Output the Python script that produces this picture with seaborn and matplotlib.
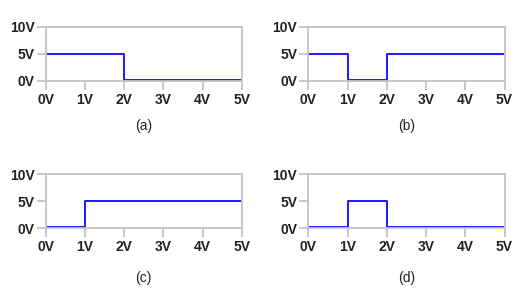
import matplotlib
matplotlib.use("Agg")
import matplotlib.pyplot as plt
import seaborn as sns
import pandas as pd

sns.set_theme(style="white")
plt.rcParams['font.family'] = ['Liberation Sans', 'DejaVu Sans']

# Data: time (V axis) and voltage for each panel
t_a = [0, 2, 2, 5]
v_a = [5, 5, 0.2, 0.2]
t_b = [0, 1, 1, 2, 2, 5]
v_b = [5, 5, 0.2, 0.2, 5, 5]
t_c = [0, 1, 1, 5]
v_c = [0.2, 0.2, 5, 5]
t_d = [0, 1, 1, 2, 2, 5]
v_d = [0.2, 0.2, 5, 5, 0.2, 0.2]
panel_labels = ["(a)", "(b)", "(c)", "(d)"]
x_ticks = [0, 1, 2, 3, 4, 5]
x_tick_labels = ["0V", "1V", "2V", "3V", "4V", "5V"]
y_ticks = [0, 5, 10]
y_tick_labels = ["0V", "5V", "10V"]

W, H = 523, 302
fig = plt.figure(figsize=(W / 100, H / 100), dpi=100)

# axes boxes in pixels: left, right, top, bottom
boxes = [(45.7, 241.7, 27, 81), (308.3, 504.5, 27, 81),
         (45.7, 241.7, 174.3, 228), (308.3, 504.5, 174.3, 228)]
series = [(t_a, v_a), (t_b, v_b), (t_c, v_c), (t_d, v_d)]
label_y = [126, 126, 278, 278]

gray = "#c4c4c4"
for (l, r, t, b), (tt, vv), lab, ly in zip(boxes, series, panel_labels, label_y):
    ax = fig.add_axes([l / W, 1 - b / H, (r - l) / W, (b - t) / H])
    df = pd.DataFrame({"t": tt, "v": vv})
    sns.lineplot(data=df, x="t", y="v", ax=ax, estimator=None, sort=False,
                 color="#1a1aff", linewidth=1.4)
    ax.set_xlim(0, 5)
    ax.set_ylim(0, 10)
    ax.set_xticks(x_ticks)
    ax.set_xticklabels(x_tick_labels, fontweight="bold", fontsize=10, color="#222222")
    ax.set_yticks(y_ticks)
    ax.set_yticklabels(y_tick_labels, fontweight="bold", fontsize=10, color="#222222")
    ax.set_xlabel("")
    ax.set_ylabel("")
    for s in ax.spines.values():
        s.set_color(gray)
        s.set_linewidth(1.3)
        s.set_visible(True)
    ax.tick_params(axis="both", direction="out", length=6.5, width=1.3, color=gray,
                   pad=1.5, bottom=True, left=True)
    ax.tick_params(axis="x", pad=2)
    ax.grid(False)
    ax.set_facecolor("white")
    fig.text((l + r) / 2 / W, 1 - ly / H, lab, ha="center", va="center",
             fontsize=10, color="#222222")

fig.savefig("out.png", dpi=100)
